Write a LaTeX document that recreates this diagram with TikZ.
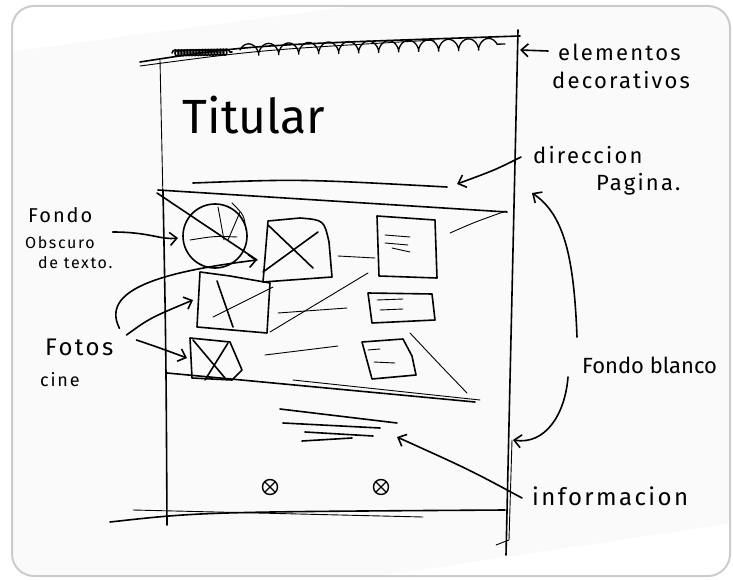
\documentclass[tikz,border=0pt]{standalone}
\usepackage{fontspec}
\setmainfont{Fira Sans}
\newfontfamily\hand[LetterSpace=10]{Fira Sans}
\usetikzlibrary{arrows.meta,decorations.pathmorphing,calc}
\begin{document}
\begin{tikzpicture}[x=1pt,y=-1pt,
  pen/.style={line width=1.6pt,line cap=round,line join=round},
  thinpen/.style={line width=0.9pt,line cap=round,line join=round},
  arr/.style={pen,-{Straight Barb[length=7pt,width=13pt,line width=1.6pt]}},
  lbl/.style={inner sep=0pt,anchor=west,font=\hand\fontsize{22}{24}\selectfont},
  smalllbl/.style={inner sep=0pt,anchor=west,font=\hand\fontsize{16}{18}\selectfont},
  ico/.style={circle,draw,line width=1.4pt,minimum size=15pt,inner sep=0pt,
    path picture={\draw[line width=1.1pt] (path picture bounding box.south west)--(path picture bounding box.north east)
      (path picture bounding box.north west)--(path picture bounding box.south east);}}]
\useasboundingbox (0,0) rectangle (733,580);
% frame and glossy band
\begin{scope}
  \clip[rounded corners=22pt] (12,6) rectangle (730,576);
  \fill[black!2] (0,53) -- (398,0) -- (733,0) -- (733,523) -- (600,543) -- (0,633) -- cycle;
\end{scope}
\draw[line width=2pt,draw=black!20,rounded corners=22pt] (12,6) rectangle (730,576);

% ---- sketched page ----
% top double line
\draw[pen] (140,62) .. controls (250,45) .. (520,36);
\draw[thinpen] (140,66) .. controls (260,50) .. (435,40);
% decorative scribbles
\draw[pen,decorate,decoration={coil,aspect=0.9,segment length=3pt,amplitude=3pt}] (172,53) -- (232,52);
\draw[line width=1.3pt,line cap=round,decorate,decoration={coil,aspect=0.6,segment length=20pt,amplitude=6pt}] (240,50) -- (505,44);
% verticals
\draw[thinpen] (160,60) -- (163,200);
\draw[pen] (163,190) .. controls (166,350) .. (167,525);
\draw[pen] (518,30) .. controls (513,250) .. (506,555);
\draw[thinpen] (512,440) -- (509,540) -- (496,545);
% bottom lines
\draw[pen] (110,522) .. controls (200,512) .. (505,510);
\draw[thinpen] (133,510) -- (423,517);

% title
\node[inner sep=0pt,font=\fontsize{48}{50}\selectfont] (tit) at (254,115) {Titular};
\draw[pen] (193,183) .. controls (300,179) .. (447,187);

% dark band outline
\draw[pen] (158,190) -- (507,212);
\draw[pen] (167,373) -- (475,402);
\draw[thinpen] (293,380) -- (480,400);
\draw[thinpen] (410,333) .. controls (440,365) .. (467,393);
\draw[thinpen] (450,233) .. controls (475,222) .. (506,211);

% circle (fondo obscuro)
\draw[pen] (215,236) circle (32pt);
\draw[pen] (157,193) -- (257,260);
\draw[thinpen] (190,240) .. controls (215,236) .. (237,237);
\draw[thinpen] (218,207) -- (224,240);
\draw[thinpen] (240,212) -- (228,240);
\draw[thinpen] (232,203) .. controls (244,215) .. (246,230);

% photo boxes with X
\draw[pen] (268,221) -- (263,282) -- (332,277) -- (329,242) .. controls (324,220) .. (300,218) -- (268,221);
\draw[pen] (268,225) -- (313,268);
\draw[pen] (263,272) -- (318,232);
\draw[pen] (200,272) -- (197,327) -- (267,333) -- (270,283) -- (230,276) -- (200,272);
\draw[pen] (217,281) -- (233,327);
\draw[thinpen] (213,317) -- (273,287);
\draw[pen] (190,338) -- (230,342) -- (242,370) -- (232,380) -- (192,378) -- (190,338);
\draw[pen] (193,340) -- (225,378);
\draw[pen] (205,380) -- (228,343);

% text boxes
\draw[pen] (377,216) -- (435,220) -- (437,278) -- (379,276) -- (377,216);
\draw[thinpen] (385,235) -- (410,237) (385,243) -- (408,245) (392,248) -- (410,252);
\draw[pen] (368,293) -- (432,294) -- (435,320) -- (372,323) -- (368,293);
\draw[thinpen] (377,300) -- (403,299) (380,310) -- (403,309);
\draw[pen] (362,342) -- (403,339) -- (412,356) -- (416,375) -- (372,379) -- (362,342);
\draw[thinpen] (368,350) -- (380,349) (374,362) -- (395,363);

% connectors photo -> text
\draw[thinpen] (338,256) -- (375,258);
\draw[thinpen] (278,313) -- (347,308);
\draw[thinpen] (265,355) -- (338,346);
\draw[thinpen] (270,332) -- (368,273);

% information lines
\draw[pen] (280,409) -- (397,423);
\draw[pen] (283,423) -- (380,428);
\draw[pen] (305,432) -- (373,436);
\draw[pen] (302,441) -- (352,438);
\coordinate (infotip) at (397,437);

% icons
\node[ico] (ico1) at (270,487) {};
\node[ico] (ico2) at (381,487) {};

% ---- labels right ----
\node[lbl] (el1) at (558,52) {elementos};
\node[lbl] (el2) at (552,80) {decorativos};
\coordinate (eltip) at (520,50);
\draw[arr] ($(el1.west)+(-10,-1)$) -- (eltip);

\node[lbl] (dir1) at (533,155) {direccion};
\node[lbl] (dir2) at (596,184) {Pagina.};
\coordinate (dirtip) at (457,184);
\draw[arr] ($(dir1.west)+(-12,2)$) .. controls (495,170) .. (dirtip);

\node[inner sep=0pt,anchor=west,font=\fontsize{22}{24}\selectfont] (fb) at (582,365) {Fondo blanco};
\coordinate (fbtop) at (532,193);
\coordinate (fbbot) at (513,440);
\draw[arr] ($(fb.west)+(-5,-28)$) .. controls (574,260) and (565,215) .. (fbtop);
\draw[arr] ($(fb.west)+(-14,12)$) .. controls (565,415) and (545,445) .. (fbbot);

\node[lbl,font=\hand\fontsize{24}{26}\selectfont] (info) at (532,496) {informacion};
\draw[arr] ($(info.west)+(-10,2)$) .. controls (470,470) .. (infotip);

% ---- labels left ----
\node[lbl,font=\hand\fontsize{20}{22}\selectfont] (fo1) at (28,215) {Fondo};
\node[smalllbl] (fo2) at (25,243) {Obscuro};
\node[smalllbl] (fo3) at (38,263) {de texto.};
\coordinate (fotip) at (178,238);
\draw[arr] ($(fo1.east)+(20,17)$) .. controls (150,232) and (160,240) .. (fotip);

\node[lbl,font=\hand\fontsize{24}{26}\selectfont] (fotos) at (45,347) {Fotos};
\node[smalllbl,font=\hand\fontsize{18}{20}\selectfont] (cine) at (40,380) {cine};
\coordinate (ft1) at (257,260);
\coordinate (ft2) at (193,300);
\coordinate (ft3) at (187,358);
\draw[arr] ($(fotos.north east)+(6,-10)$) .. controls (100,290) and (160,272) .. (ft1);
\draw[arr] ($(fotos.east)+(13,-12)$) .. controls (150,318) .. (ft2);
\draw[arr] ($(fotos.east)+(23,-7)$) .. controls (160,348) .. (ft3);
\end{tikzpicture}
\end{document}
